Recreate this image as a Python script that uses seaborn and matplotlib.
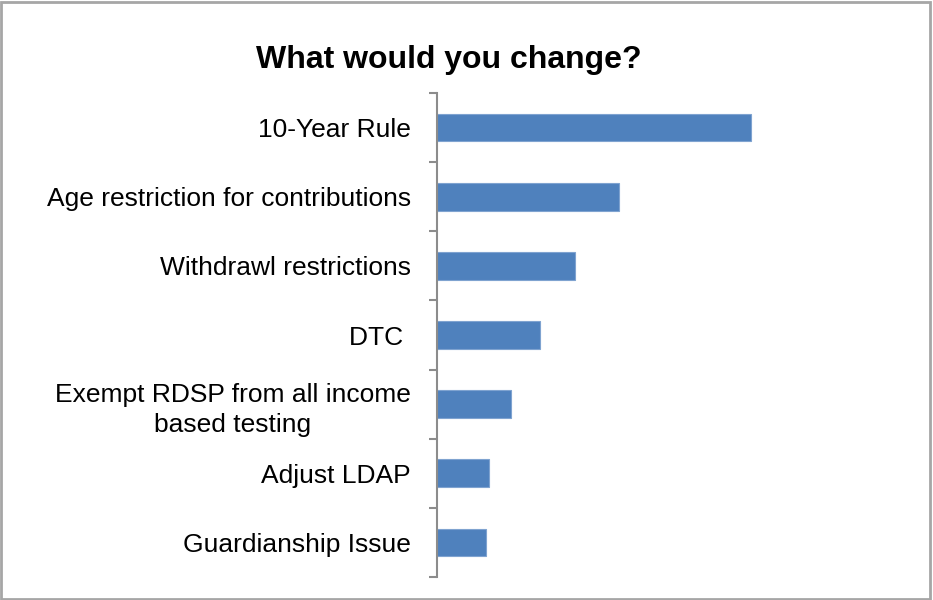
import matplotlib
matplotlib.use("Agg")
import matplotlib.pyplot as plt
from matplotlib.patches import Rectangle
from matplotlib.ticker import FixedLocator
import seaborn as sns
import pandas as pd
import numpy as np

categories = [
    "10-Year Rule",
    "Age restriction for contributions",
    "Withdrawl restrictions",
    "DTC ",
    "Exempt RDSP from all income\nbased testing",
    "Adjust LDAP",
    "Guardianship Issue",
]
responses = [64, 37, 28, 21, 15, 10.5, 10]

df = pd.DataFrame({"change": categories, "responses": responses})

sns.set_theme(style="white")
plt.rcParams["font.family"] = ["Liberation Sans", "DejaVu Sans"]

fig = plt.figure(figsize=(9.33, 6.0), dpi=100)
ax = fig.add_axes([0.4684, 0.0383, 0.50, 0.8067])

sns.barplot(data=df, x="responses", y="change", orient="h", color="#4F81BD",
            saturation=1, width=0.4, edgecolor="#7FA3D0", linewidth=0.8, ax=ax)

ax.set_xlim(0, 95)
ax.set_ylim(len(categories) - 0.5, -0.5)
ax.set_xlabel("")
ax.set_ylabel("")
ax.set_xticks([])

for side in ("top", "right", "bottom"):
    ax.spines[side].set_visible(False)
ax.spines["left"].set_color("#8C8C8C")
ax.spines["left"].set_linewidth(1.5)

ax.yaxis.set_minor_locator(FixedLocator(np.arange(-0.5, len(categories), 1.0)))
ax.tick_params(axis="y", which="major", length=0, pad=19, labelsize=19, labelcolor="black")
ax.tick_params(axis="y", which="minor", length=6, width=1.5, color="#8C8C8C", left=True)
for lbl in ax.get_yticklabels():
    lbl.set_horizontalalignment("right")
    lbl.set_multialignment("center")
    lbl.set_linespacing(1.35)
    lbl.set_y(lbl.get_position()[1])

fig.text(0.481, 0.90, "What would you change?", ha="center", va="center",
         fontsize=23, fontweight="bold", color="black")

fig.patches.append(Rectangle((0.001, 0.002), 0.996, 0.995, transform=fig.transFigure,
                             fill=False, edgecolor="#A6A6A6", linewidth=2.0))

fig.savefig("out.png", dpi=100)
